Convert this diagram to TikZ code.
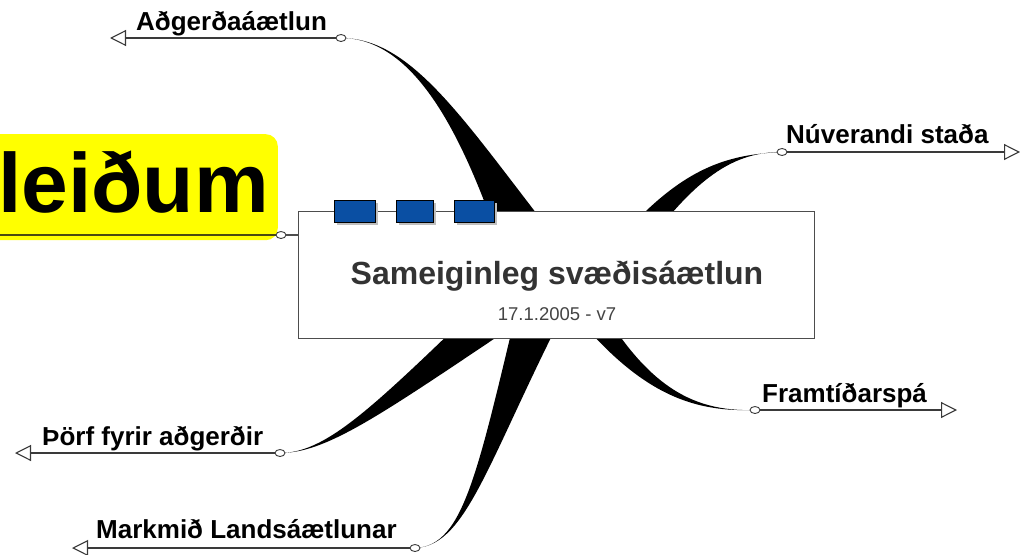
\documentclass[tikz,border=0pt]{standalone}
\usepackage{fontspec}
\setmainfont{Liberation Sans}
\usetikzlibrary{arrows.meta,shadows,calc,shapes.geometric}
\definecolor{boxline}{HTML}{4D4D4D}
\definecolor{leadergrey}{HTML}{3A3A3A}
\definecolor{tabblue}{HTML}{0A4FA3}
\definecolor{titlegrey}{HTML}{333333}
\definecolor{subgrey}{HTML}{444444}
\definecolor{ylline}{HTML}{4A4A10}
\definecolor{ybg}{HTML}{FFFF00}
\begin{document}
\begin{tikzpicture}[x=1pt,y=-1pt,
  wedge/.style={fill=black},
  oval/.style={ellipse, draw=leadergrey, fill=white, line width=0.9pt, minimum width=10pt, minimum height=7pt, inner sep=0pt},
  leader/.style={draw=leadergrey, line width=1.1pt, -{Triangle[open, length=16pt, width=16pt, line width=1.1pt]}},
  lbl/.style={font=\fontsize{26}{30}\selectfont\bfseries, anchor=base west, inner sep=0pt, text=black},
  tab/.style={draw=black, fill=tabblue, line width=0.8pt, minimum height=22pt, inner sep=0pt, anchor=north west,
    drop shadow={shadow xshift=3pt, shadow yshift=-3pt, fill=black!25, opacity=1}},
]
\useasboundingbox (0,0) rectangle (1032,554);
\fill[white] (0,0) rectangle (1032,554);

\coordinate (ctr) at (556,275);
% branch end points
\path (341,38) coordinate (pA) (782,152) coordinate (pB) (755,410) coordinate (pC)
      (280,453) coordinate (pD) (415,548) coordinate (pE);

% tapered branches
\fill[wedge] (pA) .. controls (420,38) and (470,150) .. ($(ctr)+(-46,0)$)
  -- ($(ctr)+(29,0)$) .. controls (475,140) and (420,38) .. (pA);
\fill[wedge] (pB) .. controls (730,152) and (690,180) .. ($(ctr)+(69,0)$)
  -- ($(ctr)+(34,0)$) .. controls (670,170) and (720,155) .. (pB);
\fill[wedge] (pC) .. controls (690,412) and (640,385) .. ($(ctr)+(27,0)$)
  -- ($(ctr)+(-11,0)$) .. controls (630,395) and (690,412) .. (pC);
\fill[wedge] (pD) .. controls (330,453) and (380,400) .. ($(ctr)+(-46,0)$)
  -- ($(ctr)+(34,0)$) .. controls (400,400) and (335,453) .. (pD);
\fill[wedge] (pE) .. controls (465,546) and (478,470) .. ($(ctr)+(-31,0)$)
  -- ($(ctr)+(27,0)$) .. controls (490,450) and (470,546) .. (pE);

% yellow node
\node[fill=ybg, rounded corners=12pt, anchor=north east, minimum width=320pt, minimum height=106pt, inner sep=0pt] (yb) at (278,134) {};
\node[font=\fontsize{84}{92}\selectfont\bfseries, anchor=base west, inner sep=0pt] (ytext) at (-2,212) {leiðum};

% main box
\node[draw=boxline, fill=white, line width=1.3pt, minimum width=516pt, minimum height=127pt, inner sep=0pt, anchor=north west] (main) at (298,211) {};
\node[font=\fontsize{32}{36}\selectfont\bfseries, text=titlegrey, anchor=base, inner sep=0pt] (title) at (557,284) {Sameiginleg svæðisáætlun};
\node[font=\fontsize{18.5}{22}\selectfont, text=subgrey, anchor=base, inner sep=0pt] (sub) at (557,320) {17.1.2005 - v7};

% tabs
\node[tab, minimum width=41pt] (t1) at (334,200) {};
\node[tab, minimum width=37pt] (t2) at (396,200) {};
\node[tab, minimum width=40pt] (t3) at (454,200) {};

% yellow connector
\node[oval] (oY) at (281,235) {};
\draw[ylline, line width=1.8pt] (yb.west |- oY) -- (oY.west);
\draw[boxline, line width=1.2pt] (oY.east) -- (main.west |- oY);

% branch ovals
\node[oval] (oA) at (pA) {};
\node[oval] (oB) at (pB) {};
\node[oval] (oC) at (pC) {};
\node[oval] (oD) at (pD) {};
\node[oval] (oE) at (pE) {};

% leaders with open triangles
\coordinate (tA) at (110,38);
\coordinate (tB) at (1020,152);
\coordinate (tC) at (957,410);
\coordinate (tD) at (15,453);
\coordinate (tE) at (72,548);
\draw[leader] (oA.west) -- (tA);
\draw[leader] (oB.east) -- (tB);
\draw[leader] (oC.east) -- (tC);
\draw[leader] (oD.west) -- (tD);
\draw[leader] (oE.west) -- (tE);

% labels
\node[lbl] (lA) at (136,30) {Aðgerðaáætlun};
\node[lbl] (lB) at (786,143) {Núverandi staða};
\node[lbl] (lC) at (762,402) {Framtíðarspá};
\node[lbl] (lD) at (42,445) {Þörf fyrir aðgerðir};
\node[lbl] (lE) at (96,538) {Markmið Landsáætlunar};
\end{tikzpicture}
\end{document}
